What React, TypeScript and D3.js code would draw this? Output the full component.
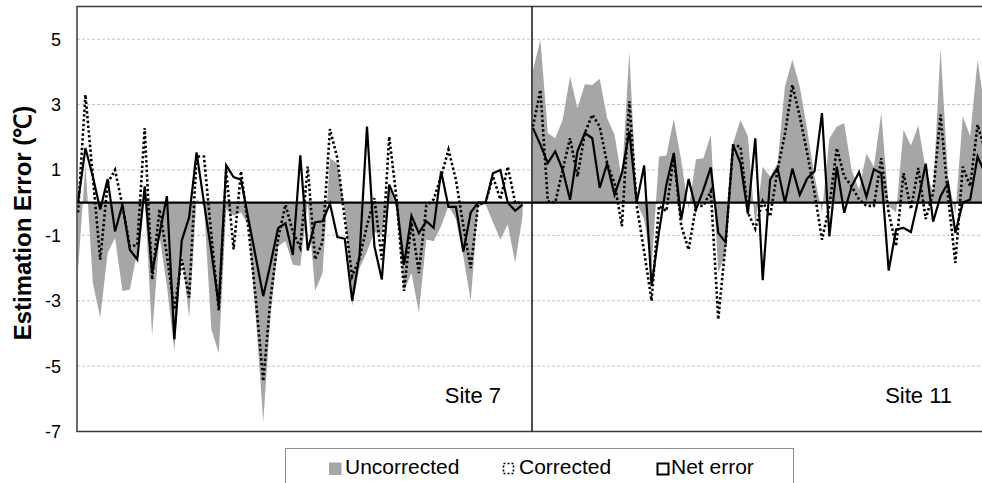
import React, { Component } from 'react'
import * as d3 from 'd3'

// site 7 (left panel), one value per run
const site7Uncorrected = [-2.1, 1.2, -2.45, -3.52, -1.54, -1.08, -2.7, -2.66, -1.5, 0.2, -4.08, -1.03, -2.55, -4.54, -1.54, -3.52, 0.1, -0.1, -3.88, -4.6, -0.2, -0.4, -0.3, -0.7, -3.5, -6.7, -3.4, -1.33, -1.18, -1.9, -1.94, 0.0, -2.7, -2.15, 1.36, 1.2, -0.2, -3.16, -2.0, -1.5, -0.9, -1.0, 0.5, -0.2, -2.7, -2.15, -3.37, -1.13, -1.18, -0.72, -0.1, -0.5, -1.64, -3.0, -0.1, -0.05, -0.6, -1.13, -0.67, -1.84, -0.4]
const site7Corrected = [-0.3, 3.3, 0.8, -1.74, 0.6, 1.0, -0.1, -1.33, -1.3, 2.28, -2.35, -0.2, -1.6, -3.27, -1.74, -2.9, 1.41, 1.41, -1.0, -3.3, 1.0, -1.43, 0.96, -0.8, -2.96, -5.46, -2.9, -1.1, -0.06, -0.9, -1.38, 1.1, -1.74, -1.2, 2.25, 1.36, -0.5, -2.25, -1.7, -0.7, 0.14, -1.74, 2.02, 0.1, -2.7, -0.6, -2.15, -0.1, 0.1, 0.8, 1.62, 0.7, -0.7, -2.0, -0.06, 0.0, 0.8, 0.1, 1.1, 0.0, 0.0]
const site7Net = [0.0, 1.67, 0.8, -0.21, 0.72, -0.88, -0.06, -1.44, -1.74, 0.5, -2.15, -0.95, 0.2, -4.18, -1.16, -0.45, 1.54, 0.0, -1.5, -3.15, 1.14, 0.78, 0.7, -0.5, -1.68, -2.86, -1.85, -0.78, -0.63, -1.6, 1.45, -1.46, -0.6, -0.57, -0.03, -1.05, -1.1, -3.0, -1.6, 2.33, -1.33, -2.35, 0.55, 0.0, -1.9, -0.4, -0.93, -0.57, -0.77, 0.96, -0.13, -0.13, -1.5, -0.3, 0.0, 0.0, 0.9, 1.0, 0.0, -0.25, -0.06]

// site 11 (right panel)
const site11Uncorrected = [4.06, 4.98, 2.13, 1.97, 2.53, 3.86, 2.89, 3.62, 3.6, 3.79, 2.59, 2.08, 0.7, 4.62, 0.0, -0.5, -2.0, 1.41, 1.44, 2.56, 1.3, -0.2, 1.33, 1.36, 2.08, -2.15, -1.54, 1.82, 2.53, 2.03, -0.72, 1.1, 0.8, 1.2, 3.55, 4.37, 3.55, 2.23, 0.8, -0.3, 1.97, 2.33, 2.43, 1.0, 0.4, 1.5, 1.1, 2.74, -0.1, -0.3, 2.23, 1.75, 2.36, 1.0, 0.3, 4.72, 0.8, -0.35, 2.64, 2.03, 4.37, 2.8]
const site11Corrected = [2.33, 3.45, 0.04, 0.0, 1.0, 1.97, 0.8, 2.13, 2.69, 2.33, 1.2, 0.6, -0.72, 3.1, -0.1, -1.5, -3.0, -0.1, -0.26, 1.41, -0.7, -1.44, -0.1, -0.1, 0.35, -3.57, -1.23, 1.75, 1.72, -0.3, -0.8, 0.04, -0.42, 1.0, 2.1, 3.6, 2.64, 1.52, 0.3, -1.13, -0.1, 1.67, 0.8, 0.5, 0.1, -0.1, -0.1, 1.36, -0.3, -1.33, 0.9, -0.2, 1.06, -0.5, 0.3, 2.69, 0.2, -1.84, 1.1, 0.5, 2.38, 1.6]
const site11Net = [2.28, 1.77, 1.21, 1.57, 1.0, 0.09, 1.57, 2.13, 1.97, 0.45, 1.19, 0.24, 0.9, 2.18, 0.0, 1.14, -2.55, -0.9, 0.55, 1.52, -0.52, 0.72, -0.21, 0.4, 1.08, -0.93, -1.21, 1.77, 1.21, -0.34, 1.97, -2.37, 0.7, 1.06, 0.0, 1.04, 0.24, 0.74, 0.96, 2.74, -1.03, 1.1, -0.31, 0.5, 0.93, 0.18, 1.02, 0.9, -2.08, -0.82, -0.77, -0.9, 0.1, 1.19, -0.58, 0.2, 0.6, -0.92, 0.0, 0.1, 1.41, 0.9]

const yTicks = [5, 3, 1, -1, -3, -5, -7]
const siteNames = ['Site 7', 'Site 11']
const legendLabels = ['Uncorrected', 'Corrected', 'Net error']

const FONT = 'Arial, "Liberation Sans", Helvetica, sans-serif'
const GREY = '#a6a6a6'

export class ErrorChart extends Component {
  node: SVGSVGElement | null = null

  componentDidMount() {
    this.drawChart()
  }

  drawChart() {
    const svg = d3.select(this.node)
    svg.selectAll('*').remove()

    const left = 77
    const top = 6.5
    const bottom = 431.5
    const divider = 532
    const right = 995

    const y = d3.scaleLinear().domain([-7, 6]).range([bottom, top])

    const panels = [
      { name: siteNames[0], unc: site7Uncorrected, cor: site7Corrected, net: site7Net,
        x: d3.scaleLinear().domain([0, 60]).range([78, 522.6]), labelX: divider - 31 },
      { name: siteNames[1], unc: site11Uncorrected, cor: site11Corrected, net: site11Net,
        x: d3.scaleLinear().domain([0, 60]).range([533, 977.6]), labelX: 952 },
    ]

    svg.append('rect').attr('width', 982).attr('height', 483).attr('fill', '#fff')

    // gridlines
    svg.append('g')
      .selectAll('line')
      .data(yTicks.slice(0, -1))
      .enter()
      .append('line')
      .attr('x1', left).attr('x2', right)
      .attr('y1', d => y(d)).attr('y2', d => y(d))
      .attr('stroke', '#c4c4c4')
      .attr('stroke-width', 1)
      .attr('stroke-dasharray', '3,2')

    panels.forEach(p => {
      const area = d3.area<number>()
        .x((d, i) => p.x(i))
        .y0(y(0))
        .y1(d => y(d))
      svg.append('path').datum(p.unc).attr('d', area).attr('fill', GREY)
    })

    // zero line
    svg.append('line')
      .attr('x1', left).attr('x2', right)
      .attr('y1', y(0)).attr('y2', y(0))
      .attr('stroke', '#000').attr('stroke-width', 2.2)

    panels.forEach(p => {
      const line = d3.line<number>().x((d, i) => p.x(i)).y(d => y(d))
      svg.append('path').datum(p.cor).attr('d', line)
        .attr('fill', 'none').attr('stroke', '#000')
        .attr('stroke-width', 2.6).attr('stroke-dasharray', '2.4,2.4')
      svg.append('path').datum(p.net).attr('d', line)
        .attr('fill', 'none').attr('stroke', '#000')
        .attr('stroke-width', 2.2).attr('stroke-linejoin', 'miter')

      svg.append('text')
        .attr('x', p.labelX).attr('y', 403)
        .attr('text-anchor', 'end')
        .attr('font-family', FONT).attr('font-size', 22)
        .text(p.name)
    })

    // frame
    svg.append('path')
      .attr('d', `M${right},${top}H${left}V${bottom}H${right}`)
      .attr('fill', 'none').attr('stroke', '#3a3a3a').attr('stroke-width', 1.5)
    svg.append('line')
      .attr('x1', divider).attr('x2', divider).attr('y1', top).attr('y2', bottom)
      .attr('stroke', '#111').attr('stroke-width', 1.5)

    // y ticks
    svg.append('g')
      .selectAll('text')
      .data(yTicks)
      .enter()
      .append('text')
      .attr('x', 61).attr('y', d => y(d))
      .attr('dy', '0.36em')
      .attr('text-anchor', 'end')
      .attr('font-family', FONT).attr('font-size', 18)
      .text(d => d)

    svg.append('text')
      .attr('transform', 'translate(31,223) rotate(-90)')
      .attr('text-anchor', 'middle')
      .attr('font-family', FONT).attr('font-size', 24).attr('font-weight', 'bold')
      .text('Estimation Error (℃)')

    // legend
    const lg = svg.append('g')
    lg.append('rect').attr('x', 285.5).attr('y', 448.5).attr('width', 508).attr('height', 45)
      .attr('fill', '#fff').attr('stroke', '#8c8c8c').attr('stroke-width', 1)
    lg.append('rect').attr('x', 329).attr('y', 462.5).attr('width', 12.5).attr('height', 12.5).attr('fill', GREY)
    lg.append('rect').attr('x', 503.5).attr('y', 463.5).attr('width', 10).attr('height', 10)
      .attr('fill', 'none').attr('stroke', '#000').attr('stroke-width', 1.6).attr('stroke-dasharray', '2,2')
    lg.append('rect').attr('x', 657.5).attr('y', 463.5).attr('width', 11).attr('height', 11)
      .attr('fill', 'none').attr('stroke', '#000').attr('stroke-width', 2)
    const lx = [345, 519, 671]
    legendLabels.forEach((t, i) => {
      lg.append('text').attr('x', lx[i]).attr('y', 474)
        .attr('font-family', FONT).attr('font-size', 21)
        .text(t)
    })
  }

  render() {
    return (
      <div style={{ position: 'absolute', left: 0, top: 0 }}>
        <svg ref={n => { this.node = n }} width={982} height={483} style={{ display: 'block' }} />
      </div>
    )
  }
}

export default function App() {
  return <ErrorChart />
}
